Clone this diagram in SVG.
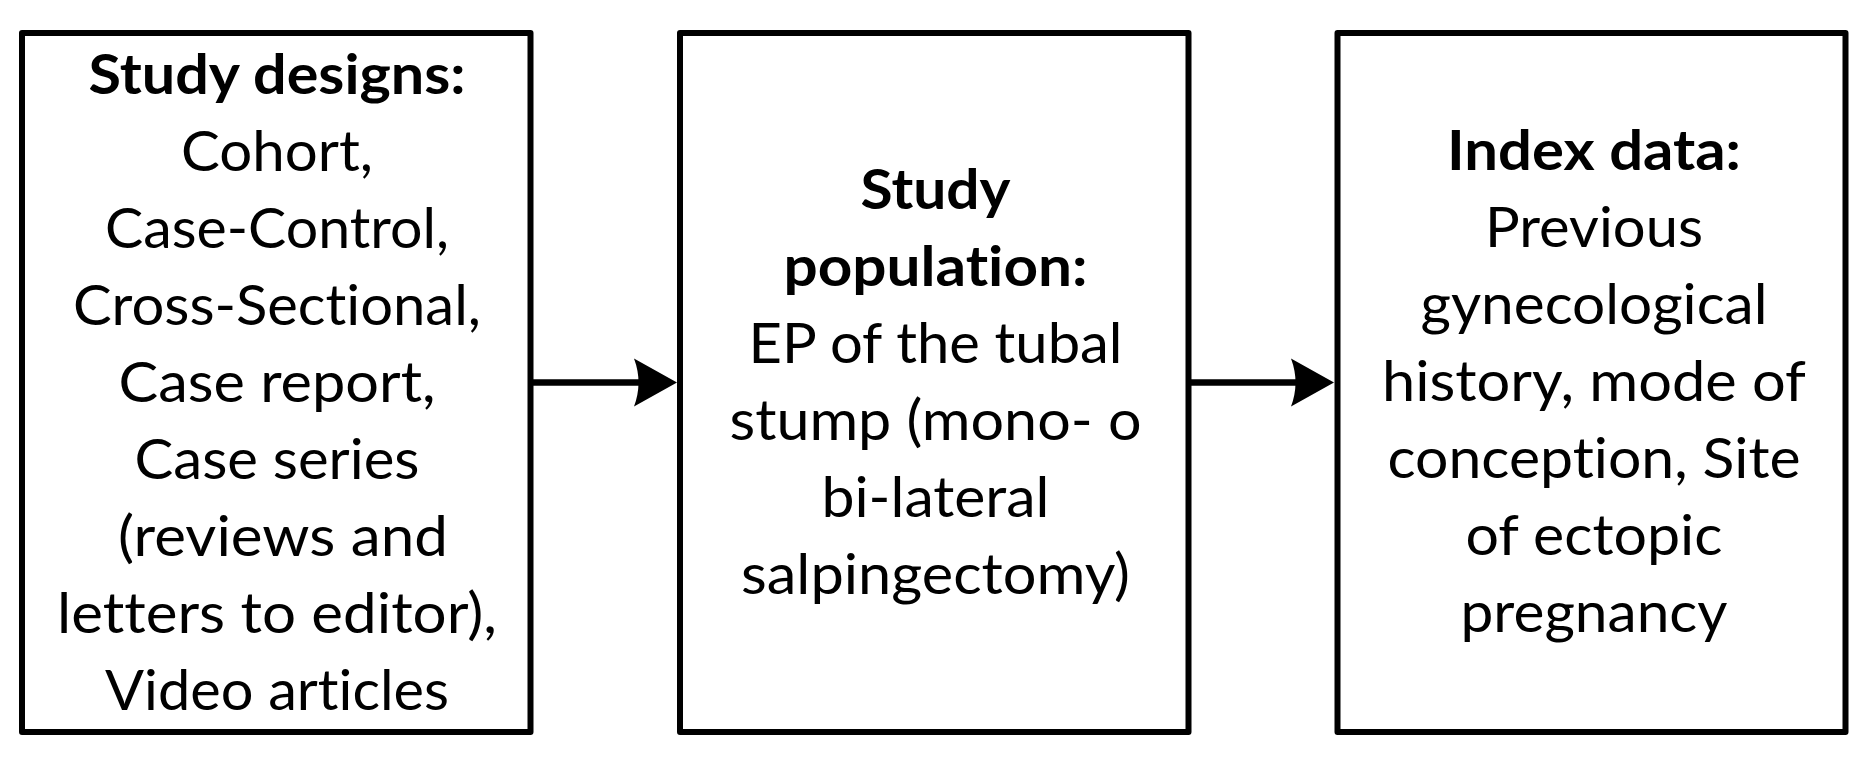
<svg xmlns="http://www.w3.org/2000/svg" width="1871" height="763" viewBox="0 0 1871 763">
<style>
.box{fill:#fff;stroke:#000;stroke-width:6;stroke-linejoin:round}
.t{font-family:Lato,"Open Sans","Liberation Sans",sans-serif;font-size:56px;fill:#000;text-anchor:middle;font-variant-ligatures:none;font-feature-settings:"liga" 0,"clig" 0}
.b{font-weight:bold}
.conn{stroke:#000;stroke-width:6.5;fill:none}
</style>
<defs>
<marker id="ah" markerUnits="userSpaceOnUse" viewBox="-12 -25 45 50" refX="0" refY="0" markerWidth="45" markerHeight="50" orient="auto">
<path d="M32,0 L-11,-24 Q-2,0 -11,24 Z" fill="#000"/>
</marker>
</defs>
<rect width="1871" height="763" fill="#fff"/>
<g id="connectors">
<line class="conn" x1="531" y1="382.5" x2="645" y2="382.5" marker-end="url(#ah)"/>
<line class="conn" x1="1189" y1="382.5" x2="1302" y2="382.5" marker-end="url(#ah)"/>
</g>
<g id="node-study-designs">
<rect class="box" x="22" y="33" width="508.5" height="699"/>
<text class="t b" x="277" y="93.5" textLength="377" lengthAdjust="spacingAndGlyphs">Study designs:</text>
<text class="t" x="277" y="170.5" textLength="192" lengthAdjust="spacingAndGlyphs">Cohort,</text>
<text class="t" x="277" y="247.5" textLength="344" lengthAdjust="spacingAndGlyphs">Case-Control,</text>
<text class="t" x="277" y="324.5" textLength="408" lengthAdjust="spacingAndGlyphs">Cross-Sectional,</text>
<text class="t" x="277" y="401.5" textLength="317" lengthAdjust="spacingAndGlyphs">Case report,</text>
<text class="t" x="277" y="478.5" textLength="285" lengthAdjust="spacingAndGlyphs">Case series</text>
<text class="t" x="283" y="555.5" textLength="330" lengthAdjust="spacingAndGlyphs">(reviews and</text>
<text class="t" x="277" y="632.5" textLength="440" lengthAdjust="spacingAndGlyphs">letters to editor),</text>
<text class="t" x="277" y="709.5" textLength="344" lengthAdjust="spacingAndGlyphs">Video articles</text>
</g>
<g id="node-study-population">
<rect class="box" x="680" y="33" width="508.5" height="699"/>
<text class="t b" x="935.5" y="209" textLength="150" lengthAdjust="spacingAndGlyphs">Study</text>
<text class="t b" x="935.5" y="286" textLength="304" lengthAdjust="spacingAndGlyphs">population:</text>
<text class="t" x="935.5" y="363" textLength="374" lengthAdjust="spacingAndGlyphs">EP of the tubal</text>
<text class="t" x="935.5" y="440" textLength="412" lengthAdjust="spacingAndGlyphs">stump (mono- o</text>
<text class="t" x="935.5" y="517" textLength="228" lengthAdjust="spacingAndGlyphs">bi-lateral</text>
<text class="t" x="935.5" y="594" textLength="389" lengthAdjust="spacingAndGlyphs">salpingectomy)</text>
</g>
<g id="node-index-data">
<rect class="box" x="1337.5" y="33" width="508" height="699"/>
<text class="t b" x="1594" y="170" textLength="294" lengthAdjust="spacingAndGlyphs">Index data:</text>
<text class="t" x="1594" y="247" textLength="218" lengthAdjust="spacingAndGlyphs">Previous</text>
<text class="t" x="1594" y="324" textLength="347" lengthAdjust="spacingAndGlyphs">gynecological</text>
<text class="t" x="1594" y="401" textLength="424" lengthAdjust="spacingAndGlyphs">history, mode of</text>
<text class="t" x="1594" y="478" textLength="413" lengthAdjust="spacingAndGlyphs">conception, Site</text>
<text class="t" x="1594" y="555" textLength="257" lengthAdjust="spacingAndGlyphs">of ectopic</text>
<text class="t" x="1594" y="632" textLength="267" lengthAdjust="spacingAndGlyphs">pregnancy</text>
</g>
</svg>
